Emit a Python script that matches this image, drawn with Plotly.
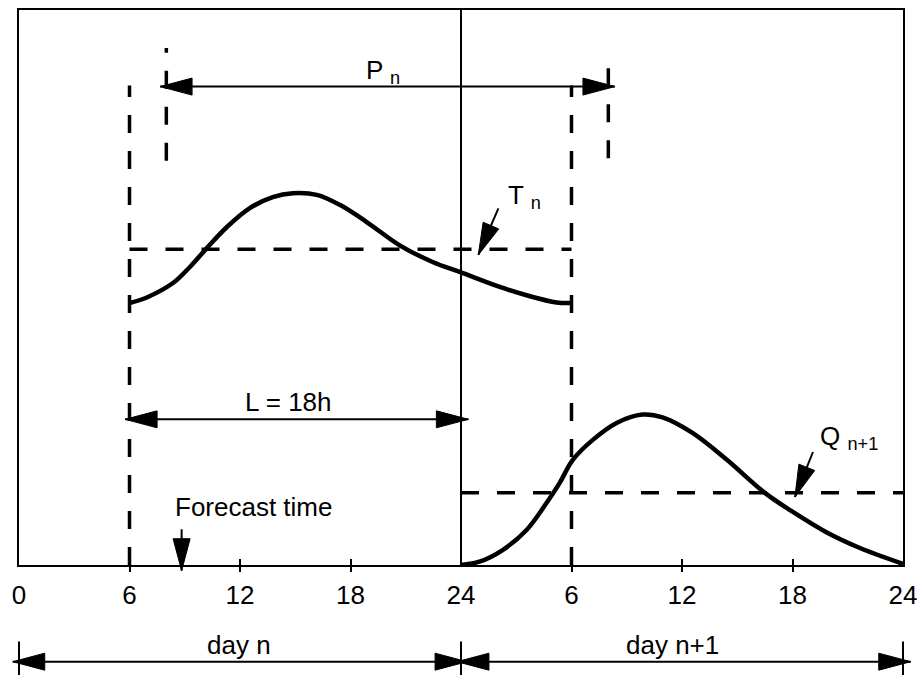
import math
import plotly.graph_objects as go

# ---------------- data ----------------
TICK_POS = [0, 6, 12, 18, 24, 30, 36, 42, 48]
TICK_TEXT = ["0", "6", "12", "18", "24", "6", "12", "18", "24"]
INNER_TICKS = [6, 12, 18, 30, 36, 42]

# temperature-like curve of day n (T_n), hours 6..30
T_HOURS = [6.0, 7.0, 8.36, 9.28, 10.2, 11.29, 12.53, 13.78, 14.87, 16.17, 17.42,
           18.88, 20.67, 22.46, 23.93, 26.1, 27.56, 29.19, 30.0]
T_VALUES = [47.2, 48.3, 50.8, 53.7, 57.1, 60.9, 64.3, 66.3, 67.0, 66.7, 64.9,
            61.8, 57.6, 54.6, 52.8, 50.1, 48.6, 47.3, 47.2]

# curve of day n+1 (Q_n+1), hours 24..48
Q_HOURS = [24.0, 25.0, 26.26, 27.56, 28.65, 29.36, 30.06, 31.14, 32.45, 33.86,
           34.94, 36.57, 38.42, 40.5, 42.0, 43.84, 45.63, 48.0]
Q_VALUES = [0.0, 0.6, 2.7, 6.3, 11.2, 14.8, 18.9, 22.5, 25.6, 27.1,
            26.6, 23.8, 19.0, 13.0, 9.6, 5.9, 3.1, 0.2]

T_MEAN = 56.9          # level of T_n
Q_MEAN = 13.0          # level of Q_n+1
DAY_BREAK = 24
WINDOW = [6, 30]       # averaging window of T_n
P_WINDOW = [8, 32]     # window P_n
WINDOW_TOP = 86.4
P_LINE_LOW = [72.85, 73.3]
P_LINE_HIGH = [93.15, 89.8]
FORECAST_TIME = 8.83

# arrows: (tail/left end, tip/right end) in (hour, value)
P_ARROW = [(7.66, 86.2), (32.36, 86.2)]
L_ARROW = [(5.76, 26.25), (24.40, 26.25)]
DAYN_ARROW = [(-0.34, -17.42), (24.33, -17.42)]
DAYN1_ARROW = [(23.78, -17.42), (48.42, -17.42)]
FC_ARROW = [(FORECAST_TIME, 6.43), (FORECAST_TIME, -1.03)]
T_ARROW = [(26.03, 64.27), (24.94, 55.86)]
Q_ARROW = [(43.11, 20.36), (42.13, 12.25)]
DAY_BARS = [0, 24, 48]
DAY_BAR_Y = [-13.8, -20.0]

# ---------------- geometry ----------------
W, H = 921, 675
ML, MR, MT, MB = 19, 18, 10, 110
X0, X1 = 0, 48
Y0, Y1 = 0, 100
PW, PH = W - ML - MR, H - MT - MB
SX = PW / (X1 - X0)
SY = PH / (Y1 - Y0)


def xp(h):
    return (h - X0) / (X1 - X0)


def yp(v):
    return (v - Y0) / (Y1 - Y0)


FONT = "Liberation Sans, Arial, sans-serif"
BLACK = "black"

fig = go.Figure()


def add_line(xs, ys, width, dash=None):
    fig.add_trace(go.Scatter(
        x=xs, y=ys, mode="lines", hoverinfo="skip",
        line=dict(color=BLACK, width=width, dash=dash)))


DASH = "18px,18px"
# day divider
add_line([DAY_BREAK, DAY_BREAK], [Y0, Y1], 2)
# window verticals (drawn bottom-up)
add_line([WINDOW[0], WINDOW[0]], [Y0, WINDOW_TOP], 3.5, DASH)
add_line([WINDOW[1], WINDOW[1]], [Y0, WINDOW_TOP], 3.5, DASH)
add_line([P_WINDOW[0], P_WINDOW[0]], [P_LINE_LOW[0], P_LINE_HIGH[0]], 3.5, DASH)
add_line([P_WINDOW[1], P_WINDOW[1]], [P_LINE_LOW[1], P_LINE_HIGH[1]], 3.5, DASH)
# mean levels
add_line(WINDOW, [T_MEAN, T_MEAN], 3.5, DASH)
add_line([DAY_BREAK, X1], [Q_MEAN, Q_MEAN], 3.5, DASH)
# curves
fig.add_trace(go.Scatter(x=T_HOURS, y=T_VALUES, mode="lines", hoverinfo="skip",
                         line=dict(color=BLACK, width=4.5, shape="spline", smoothing=1.0)))
fig.add_trace(go.Scatter(x=Q_HOURS, y=Q_VALUES, mode="lines", hoverinfo="skip",
                         line=dict(color=BLACK, width=4.5, shape="spline", smoothing=1.0)))
# carriers for the tick-mark axes
fig.add_trace(go.Scatter(x=[None], y=[None], xaxis="x2", hoverinfo="skip"))
fig.add_trace(go.Scatter(x=[None], y=[None], xaxis="x3", hoverinfo="skip"))

shapes = []


def shaft(a, b, width=2):
    shapes.append(dict(type="line", xref="paper", yref="paper",
                       x0=xp(a[0]), y0=yp(a[1]), x1=xp(b[0]), y1=yp(b[1]),
                       line=dict(color=BLACK, width=width)))


def head(tail, tip, L=32, w=8.5):
    dx = (tip[0] - tail[0]) * SX
    dy = (tip[1] - tail[1]) * SY
    n = math.hypot(dx, dy)
    ux, uy = dx / n, dy / n
    bx, by = -L * ux, -L * uy
    px, py = -uy, ux
    path = "M0,0 L{:.2f},{:.2f} L{:.2f},{:.2f} Z".format(
        bx + w * px, by + w * py, bx - w * px, by - w * py)
    shapes.append(dict(type="path", path=path, xref="paper", yref="paper",
                       xsizemode="pixel", ysizemode="pixel",
                       xanchor=xp(tip[0]), yanchor=yp(tip[1]),
                       fillcolor=BLACK, line=dict(color=BLACK, width=1)))


for a, b in [P_ARROW, L_ARROW, DAYN_ARROW, DAYN1_ARROW]:
    shaft(a, b)
    head(b, a)
    head(a, b)
for a, b in [FC_ARROW, T_ARROW, Q_ARROW]:
    shaft(a, b)
    head(a, b)
for hx in DAY_BARS:
    shaft((hx, DAY_BAR_Y[0]), (hx, DAY_BAR_Y[1]))

annotations = []


def label(text, x, y, xanchor="center", yref="y"):
    annotations.append(dict(text=text, x=x, y=y, xref="x", yref=yref,
                            xanchor=xanchor, yanchor="middle", showarrow=False,
                            font=dict(family=FONT, size=26, color=BLACK)))


label("P <sub>n</sub>", 18.73, 89.0, "left")
label("T <sub>n</sub>", 26.44, 66.4, "left")
label("Q <sub>n+1</sub>", 43.38, 23.0, "left")
label("L = 18h", 14.63, 29.3)
label("Forecast time", 12.76, 10.5)
label("day n", 11.95, yp(-14.4), yref="paper")
label("day n+1", 35.51, yp(-14.4), yref="paper")

axis_common = dict(range=[X0, X1], showgrid=False, zeroline=False, automargin=False)
fig.update_layout(
    width=W, height=H,
    margin=dict(l=ML, r=MR, t=MT, b=MB, autoexpand=False),
    paper_bgcolor="white", plot_bgcolor="white",
    showlegend=False,
    font=dict(family=FONT, size=26, color=BLACK),
    xaxis=dict(**axis_common, tickmode="array", tickvals=TICK_POS, ticktext=TICK_TEXT,
               ticks="", showline=True, linecolor=BLACK, linewidth=2, mirror=True,
               ticklabelstandoff=6, tickfont=dict(family=FONT, size=26, color=BLACK)),
    xaxis2=dict(**axis_common, overlaying="x", anchor="y", side="bottom",
                tickmode="array", tickvals=INNER_TICKS, ticks="outside", ticklen=6,
                tickwidth=2, tickcolor=BLACK, showticklabels=False, showline=False),
    xaxis3=dict(**axis_common, overlaying="x", anchor="y", side="bottom",
                tickmode="array", tickvals=INNER_TICKS, ticks="inside", ticklen=6,
                tickwidth=2, tickcolor=BLACK, showticklabels=False, showline=False),
    yaxis=dict(range=[Y0, Y1], showgrid=False, zeroline=False, showticklabels=False,
               automargin=False,
               ticks="", showline=True, linecolor=BLACK, linewidth=2, mirror=True),
    shapes=shapes,
    annotations=annotations,
)

fig.write_html("out.html", config={"displayModeBar": False},
               post_script="document.body.style.margin='0';document.body.style.padding='0';")
